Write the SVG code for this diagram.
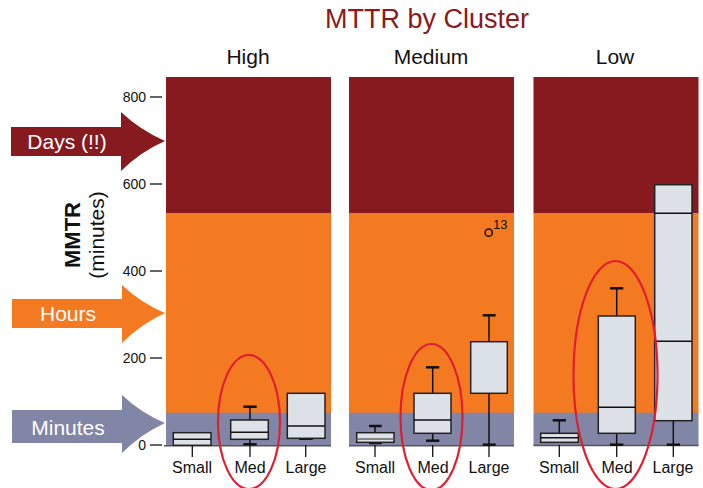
<svg xmlns="http://www.w3.org/2000/svg" width="703" height="488" viewBox="0 0 703 488">
<style>
text{font-family:"Liberation Sans","DejaVu Sans",sans-serif;fill:#111}
.days{fill:#871a1f}
.hours{fill:#f47a22}
.mins{fill:#8186a6}
.box{fill:#dde1e8;stroke:#222;stroke-width:1.5}
.wh{stroke:#111;stroke-width:1.5;fill:none}
.cap{stroke:#111;stroke-width:2.5}
.ax{stroke:#555;stroke-width:1.5}
.tick{stroke:#111;stroke-width:1.3}
.lab{font-size:16px;text-anchor:middle}
.yl{font-size:14px;text-anchor:end}
.hdr{font-size:21px;text-anchor:middle}
.arrt{font-size:21px;fill:#fff;text-anchor:middle}
.ell{fill:none;stroke:#e01e32;stroke-width:2.2}
</style>
<rect width="703" height="488" fill="#fff"/>
<text x="427" y="28" font-size="27" text-anchor="middle" style="fill:#8b1a20">MTTR by Cluster</text>
<g id="headers">
<text class="hdr" x="248" y="64">High</text>
<text class="hdr" x="431" y="64">Medium</text>
<text class="hdr" x="615" y="64">Low</text>
</g>
<g id="yaxis">
<line class="tick" x1="150" y1="97" x2="162" y2="97"/><text class="yl" x="146" y="102">800</text>
<line class="tick" x1="150" y1="184" x2="162" y2="184"/><text class="yl" x="146" y="189">600</text>
<line class="tick" x1="150" y1="271" x2="162" y2="271"/><text class="yl" x="146" y="276">400</text>
<line class="tick" x1="150" y1="358" x2="162" y2="358"/><text class="yl" x="146" y="363">200</text>
<line class="tick" x1="150" y1="445" x2="162" y2="445"/><text class="yl" x="146" y="450">0</text>
<text transform="translate(80,235) rotate(-90)" font-size="22" font-weight="bold" text-anchor="middle">MMTR</text>
<text transform="translate(104,235) rotate(-90)" font-size="21" text-anchor="middle">(minutes)</text>
</g>
<g id="arrow-days">
<path class="days" d="M11 127 H121 V112 Q140 130 165 141 Q140 152 121 171 V156 H11 Z"/>
<text class="arrt" x="67" y="149">Days (!!)</text>
</g>
<g id="arrow-hours">
<path class="hours" d="M12 299 H122 V285 Q141 303 165 313 Q141 324 122 343 V328 H12 Z"/>
<text class="arrt" x="68" y="321">Hours</text>
</g>
<g id="arrow-minutes">
<path class="mins" d="M12 410 H122 V395 Q141 413 165 423 Q141 434 122 453 V443 H12 Z"/>
<text class="arrt" x="68" y="435">Minutes</text>
</g>
<g id="panel-high">
<rect class="days" x="166" y="77" width="165" height="137"/>
<rect class="hours" x="166" y="213" width="165" height="200"/>
<rect class="mins" x="166" y="412.7" width="165" height="33"/>
<line class="ax" x1="164" y1="445.7" x2="331" y2="445.7"/>
<line class="tick" x1="192.3" y1="445" x2="192.3" y2="457"/>
<line class="tick" x1="250" y1="445" x2="250" y2="457"/>
<line class="tick" x1="305.7" y1="445" x2="305.7" y2="457"/>
<rect class="box" x="173.3" y="432.7" width="37.7" height="12.6"/>
<line class="wh" x1="173.3" y1="439.3" x2="211" y2="439.3"/>
<line class="wh" x1="250" y1="406.7" x2="250" y2="444.3"/>
<line class="cap" x1="243.3" y1="406.7" x2="256.7" y2="406.7"/>
<line class="cap" x1="243.3" y1="444.3" x2="256.7" y2="444.3"/>
<rect class="box" x="230.7" y="420" width="37.6" height="19.3"/>
<line class="wh" x1="230.7" y1="432.3" x2="268.3" y2="432.3"/>
<line class="cap" x1="299" y1="438.7" x2="312.7" y2="438.7"/>
<rect class="box" x="287.3" y="393.3" width="37.7" height="45"/>
<line class="wh" x1="287.3" y1="426" x2="325" y2="426"/>
<text class="lab" x="192" y="473">Small</text>
<text class="lab" x="250" y="473">Med</text>
<text class="lab" x="306" y="473">Large</text>
</g>
<g id="panel-medium">
<rect class="days" x="349" y="77" width="165" height="137"/>
<rect class="hours" x="349" y="213" width="165" height="200"/>
<rect class="mins" x="349" y="412.7" width="165" height="33"/>
<line class="ax" x1="349" y1="445.7" x2="514" y2="445.7"/>
<line class="tick" x1="375" y1="445" x2="375" y2="457"/>
<line class="tick" x1="432.7" y1="445" x2="432.7" y2="457"/>
<line class="tick" x1="489" y1="445" x2="489" y2="457"/>
<line class="wh" x1="375" y1="426" x2="375" y2="443"/>
<line class="cap" x1="369" y1="426" x2="381.7" y2="426"/>
<line class="cap" x1="369" y1="443" x2="381.7" y2="443"/>
<rect class="box" x="356.7" y="432.7" width="37.3" height="9.6"/>
<line class="wh" x1="356.7" y1="439" x2="394" y2="439" style="stroke:#666"/>
<line class="wh" x1="432.7" y1="367.3" x2="432.7" y2="440.7"/>
<line class="cap" x1="426" y1="367.3" x2="439.3" y2="367.3"/>
<line class="cap" x1="426" y1="440.7" x2="439.3" y2="440.7"/>
<rect class="box" x="414" y="393.3" width="37" height="40"/>
<line class="wh" x1="414" y1="420" x2="451" y2="420"/>
<line class="wh" x1="489" y1="315.3" x2="489" y2="444.7"/>
<line class="cap" x1="482.7" y1="315.3" x2="495.7" y2="315.3"/>
<line class="cap" x1="482.7" y1="444.7" x2="495.7" y2="444.7"/>
<rect class="box" x="470.7" y="341.7" width="36.6" height="51.6"/>
<circle cx="488.7" cy="232.7" r="3.6" fill="none" stroke="#111" stroke-width="1.5"/>
<text x="493" y="229" font-size="13">13</text>
<text class="lab" x="375" y="473">Small</text>
<text class="lab" x="433" y="473">Med</text>
<text class="lab" x="489" y="473">Large</text>
</g>
<g id="panel-low">
<rect class="days" x="533.5" y="77" width="165" height="137"/>
<rect class="hours" x="533.5" y="213" width="165" height="200"/>
<rect class="mins" x="533.5" y="412.7" width="165" height="33"/>
<line class="ax" x1="533.5" y1="445.5" x2="698.5" y2="445.5"/>
<line class="tick" x1="559.3" y1="445" x2="559.3" y2="457"/>
<line class="tick" x1="616.7" y1="445" x2="616.7" y2="457"/>
<line class="tick" x1="673.3" y1="445" x2="673.3" y2="457"/>
<line class="wh" x1="559.3" y1="420.3" x2="559.3" y2="434"/>
<line class="cap" x1="552.7" y1="420.3" x2="566" y2="420.3"/>
<rect class="box" x="540.7" y="433.3" width="37.6" height="9"/>
<line class="wh" x1="540.7" y1="437.7" x2="578.3" y2="437.7"/>
<line class="wh" x1="616.7" y1="288.3" x2="616.7" y2="444.7"/>
<line class="cap" x1="610" y1="288.3" x2="623.3" y2="288.3"/>
<line class="cap" x1="610" y1="444.7" x2="623.3" y2="444.7"/>
<rect class="box" x="598.3" y="316" width="37" height="117.3"/>
<line class="wh" x1="598.3" y1="407.3" x2="635.3" y2="407.3"/>
<line class="wh" x1="673.3" y1="420.7" x2="673.3" y2="444.7"/>
<line class="cap" x1="666.7" y1="444.7" x2="680" y2="444.7"/>
<rect class="box" x="654.7" y="184.7" width="37.3" height="236"/>
<line class="wh" x1="654.7" y1="213.3" x2="692" y2="213.3"/>
<line class="wh" x1="654.7" y1="341.3" x2="692" y2="341.3"/>
<text class="lab" x="559" y="473">Small</text>
<text class="lab" x="617" y="473">Med</text>
<text class="lab" x="673" y="473">Large</text>
</g>
<g id="highlights">
<ellipse class="ell" cx="249" cy="422" rx="31" ry="67"/>
<ellipse class="ell" cx="431.5" cy="417" rx="31" ry="73"/>
<ellipse class="ell" cx="615.5" cy="375" rx="42" ry="114"/>
</g>
</svg>
